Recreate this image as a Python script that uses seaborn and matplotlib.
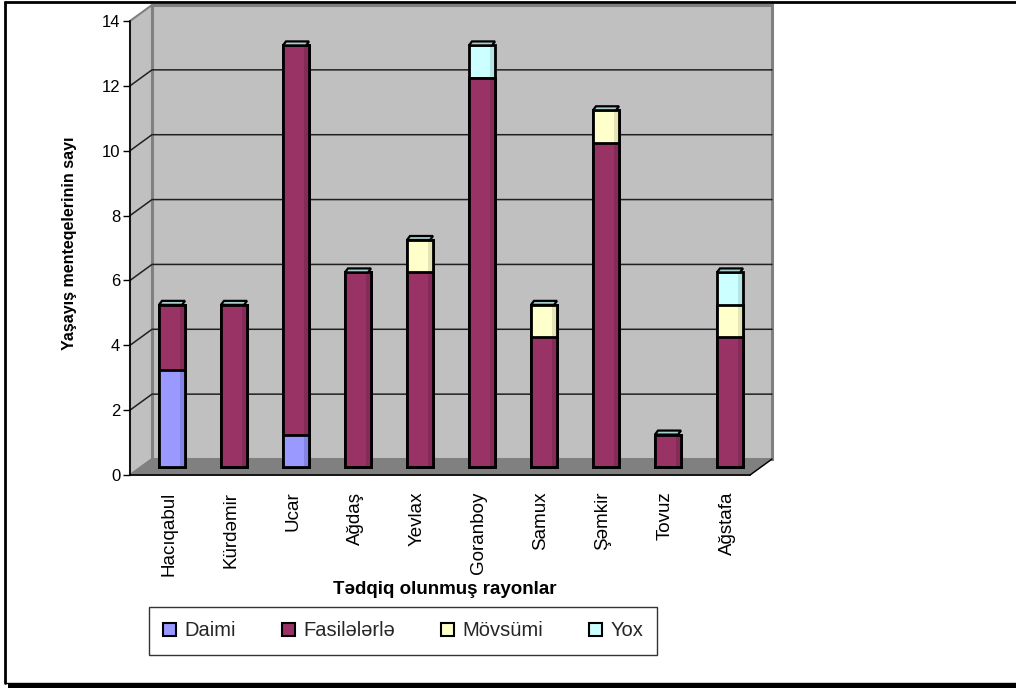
import numpy as np
import pandas as pd
import matplotlib
matplotlib.use("Agg")
import matplotlib.pyplot as plt
import seaborn as sns
from matplotlib.transforms import ScaledTranslation, IdentityTransform
from matplotlib.patches import Polygon, Rectangle, Patch
from matplotlib.lines import Line2D

# --- data -------------------------------------------------------------
rayonlar = ["Hacıqabul", "Kürdəmir", "Ucar", "Ağdaş", "Yevlax",
            "Goranboy", "Samux", "Şəmkir", "Tovuz", "Ağstafa"]
daimi = [3, 0, 1, 0, 0, 0, 0, 0, 0, 0]
fasilelerle = [2, 5, 12, 6, 6, 12, 4, 10, 1, 4]
movsumi = [0, 0, 0, 0, 1, 0, 1, 1, 0, 1]
yox = [0, 0, 0, 0, 0, 1, 0, 0, 0, 1]
series_names = ["Daimi", "Fasilələrlə", "Mövsümi", "Yox"]
y_ticks = [0, 2, 4, 6, 8, 10, 12, 14]

face_colors = ["#9999FF", "#993366", "#FFFFCC", "#CCFFFF"]
side_colors = ["#8484E4", "#842B58", "#E4E4B4", "#B4E4E4"]

# --- style ------------------------------------------------------------
sns.set_theme(style="white")
plt.rcParams["font.family"] = ["Liberation Sans", "DejaVu Sans"]

W, H, DPI = 1016, 688, 100
fig = plt.figure(figsize=(W / DPI, H / DPI), dpi=DPI)
ax = fig.add_axes([130 / W, 1 - 475 / H, 620 / W, 454 / H])
ax.set_facecolor("none")

df = pd.DataFrame({"rayon": rayonlar, "Daimi": daimi, "Fasilələrlə": fasilelerle,
                   "Mövsümi": movsumi, "Yox": yox})
stack = df[series_names].cumsum(axis=1)
n = len(rayonlar)
xpos = np.arange(n)
bar_w = 0.42
side_w = 0.085

ax.set_xlim(-0.5, n - 0.5)
ax.set_ylim(0, 14)

# depth of the 3-D box, in pixels
DX, DY = 22, 16


def P(x, y, f=0.0):
    X, Y = ax.transData.transform((x, y))
    return (X + DX * f, Y + DY * f)


ident = IdentityTransform()
x0, x1 = -0.5, n - 0.5


def add_poly(pts, **kw):
    poly = Polygon(pts, closed=True, transform=ident, clip_on=False, **kw)
    ax.add_artist(poly)
    return poly


def add_line(pts, **kw):
    ln = Line2D([q[0] for q in pts], [q[1] for q in pts], transform=ident,
                clip_on=False, **kw)
    ax.add_artist(ln)
    return ln


# walls and floor
add_poly([P(x0, 0, 1), P(x1, 0, 1), P(x1, 14, 1), P(x0, 14, 1)],
         facecolor="#C0C0C0", edgecolor="#808080", lw=2.2, zorder=0.5)
add_poly([P(x0, 0, 0), P(x0, 0, 1), P(x0, 14, 1), P(x0, 14, 0)],
         facecolor="#C0C0C0", edgecolor="#808080", lw=1.5, zorder=0.5)
add_poly([P(x0, 0, 0), P(x1, 0, 0), P(x1, 0, 1), P(x0, 0, 1)],
         facecolor="#808080", edgecolor="#808080", lw=1, zorder=0.6)
add_line([P(x1, 0, 0), P(x1, 0, 1)], color="black", lw=1, zorder=0.7)

# gridlines across side wall and back wall
for t in y_ticks[1:-1]:
    add_line([P(x0, t, 0), P(x0, t, 1), P(x1, t, 1)], color="#202020",
             lw=1.1, zorder=0.7)

# stacked bars, drawn from the top layer down
n_before = len(ax.patches)
for k in range(len(series_names) - 1, -1, -1):
    tops = stack[series_names[k]].values
    layer = pd.DataFrame({"rayon": rayonlar, "value": tops})
    sns.barplot(data=layer, x="rayon", y="value", color=face_colors[k],
                saturation=1, width=bar_w, errorbar=None, linewidth=0,
                ax=ax, zorder=3 + (3 - k) * 0.1)
    ax.bar(xpos + bar_w / 2 - side_w / 2, tops, width=side_w,
           color=side_colors[k], linewidth=0, zorder=3.02 + (3 - k) * 0.1)
    ax.bar(xpos, tops, width=bar_w, facecolor="none", edgecolor="black",
           linewidth=2, zorder=3.04 + (3 - k) * 0.1)

mid = ScaledTranslation(DX * 0.5 / DPI, DY * 0.5 / DPI, fig.dpi_scale_trans)
for p in ax.patches[n_before:]:
    p.set_transform(ax.transData + mid)
    p.set_clip_on(False)

# top caps
totals = stack["Yox"].values
for i, t in enumerate(totals):
    xl, yt = P(i - bar_w / 2, t, 0.5)
    xr, _ = P(i + bar_w / 2, t, 0.5)
    add_poly([(xl, yt), (xr - 3, yt), (xr, yt + 4), (xl + 3, yt + 4)],
             facecolor="#A8D0D0", edgecolor="black", lw=1.6, zorder=4)

ax.set_xlim(x0, x1)
ax.set_ylim(0, 14)

# axes
for s in ("top", "right"):
    ax.spines[s].set_visible(False)
for s in ("left", "bottom"):
    ax.spines[s].set_color("black")
    ax.spines[s].set_linewidth(1.2)
    ax.spines[s].set_zorder(5)

ax.set_yticks(y_ticks)
ax.set_yticklabels([str(v) for v in y_ticks], fontsize=12, color="black")
ax.tick_params(axis="y", direction="out", length=5, width=1, color="black",
               left=True, pad=2)
ax.set_xticks(xpos)
ax.set_xticklabels(rayonlar, rotation=90, fontsize=13.5, color="black",
                   va="top", ha="center")
ax.tick_params(axis="x", length=0, pad=12)
shift = ScaledTranslation(8 / DPI, 0, fig.dpi_scale_trans)
for lbl in ax.get_xticklabels():
    lbl.set_transform(lbl.get_transform() + shift)

ax.set_xlabel("")
ax.set_ylabel("Yaşayış menteqelerinin sayı", fontsize=11.5, fontweight="bold",
              color="black")
ax.yaxis.set_label_coords(-0.085, 0.511)
fig.text(445 / W, 1 - 590 / H, "Tədqiq olunmuş rayonlar", fontsize=13.5,
         fontweight="bold", ha="center", va="center", color="black")

# legend
handles = [Patch(facecolor=c, edgecolor="black", linewidth=1.5) for c in face_colors]
leg = fig.legend(handles, series_names, ncol=4, loc="center",
                 bbox_to_anchor=(403 / W, 1 - 631 / H), fontsize=14.5,
                 frameon=True, fancybox=False, shadow=False,
                 handlelength=0.65, handleheight=0.65, handletextpad=0.4,
                 columnspacing=2.3, borderpad=0.7, borderaxespad=0)
leg.get_frame().set_edgecolor("black")
leg.get_frame().set_linewidth(1)

# outer frame with a shadow strip at the bottom
fig.add_artist(Line2D([5 / W, 1], [1 - 2 / H, 1 - 2 / H], transform=fig.transFigure,
                      color="black", lw=2))
fig.add_artist(Line2D([5 / W, 5 / W], [1 - 2 / H, 1 - 683 / H], transform=fig.transFigure,
                      color="black", lw=2))
fig.add_artist(Line2D([5 / W, 1], [1 - 683 / H, 1 - 683 / H], transform=fig.transFigure,
                      color="black", lw=1))
fig.add_artist(Rectangle((8 / W, 0), 1 - 8 / W, 5 / H, transform=fig.transFigure,
                         facecolor="black", edgecolor="none"))

fig.savefig("out.png", dpi=DPI)
